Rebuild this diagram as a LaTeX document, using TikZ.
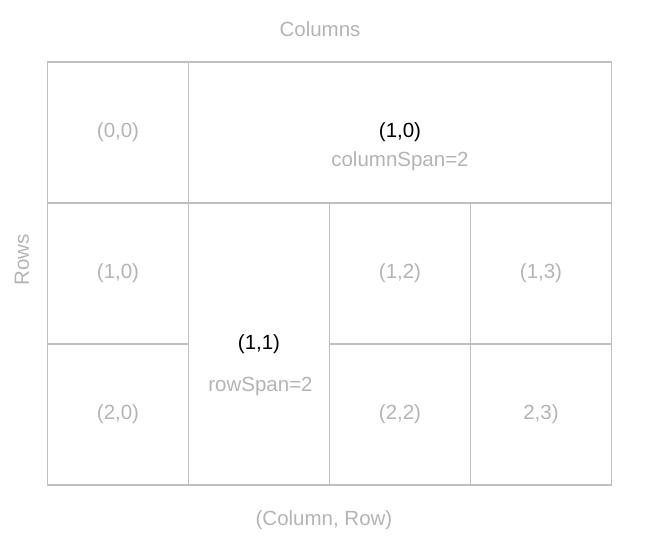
\documentclass[tikz,border=0pt]{standalone}
\usepackage{fontspec}
\setmainfont{Liberation Sans}
\usetikzlibrary{positioning}
\definecolor{gridline}{RGB}{192, 192, 192}
\definecolor{softgray}{RGB}{180, 180, 180}

\begin{document}
\begin{tikzpicture}[
            x=1pt, y=-1pt,
            cell/.style={draw=gridline, line width=1.4pt, outer sep=0pt, inner sep=0pt, minimum width=141pt, minimum height=141pt, text=softgray, font=\fontsize{20.5}{24}\selectfont},
            tag/.style={text=softgray, font=\fontsize{20.5}{24}\selectfont},
            head/.style={text=black, font=\fontsize{20.5}{24}\selectfont}
        ]
            \useasboundingbox (0,0) rectangle (649,556);
            % grid cells
            \node[cell] (c00) at (118,132.5) {(0,0)};
            \node[cell, minimum width=423pt, right=0pt of c00] (c10) {};
            \node[cell, below=0pt of c00] (r10) {(1,0)};
            \node[cell, below=0pt of r10] (r20) {(2,0)};
            \node[cell, minimum height=282pt, below right=0pt and 0pt of c00.south east] (c11) {};
            \node[cell, below right=0pt and 0pt of c11.north east] (c12) {(1,2)};
            \node[cell, right=0pt of c12] (c13) {(1,3)};
            \node[cell, below=0pt of c12] (c22) {(2,2)};
            \node[cell, right=0pt of c22] (c23) {2,3)};
            % spanning labels
            \node[head] (t10) at (c10) {(1,0)};
            \node[tag] (s10) at ([yshift=-29pt]t10) {columnSpan=2};
            \node[head] (t11) at (c11) {(1,1)};
            \node[tag] (s11) at ([yshift=-42pt,xshift=1.5pt]t11) {rowSpan=2};
            % axis captions
            \node[tag] (cols) at (320,29) {Columns};
            \node[tag, rotate=90] (rows) at (22,260) {Rows};
            \node[tag] (pos) at (324,520) {(Column, Row)};
        \end{tikzpicture}
\end{document}
